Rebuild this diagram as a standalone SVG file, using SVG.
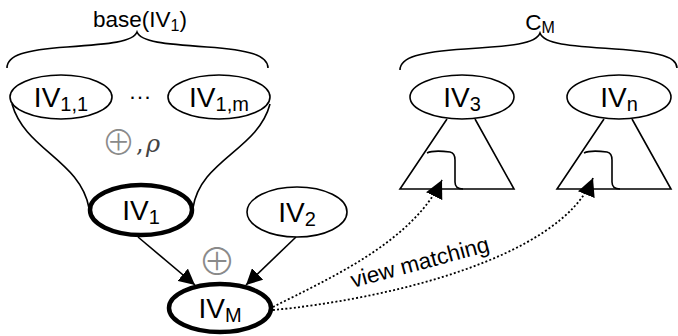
<svg xmlns="http://www.w3.org/2000/svg" width="678" height="336" viewBox="0 0 678 336">
<defs>
<style>
.n{fill:#fff;stroke:#000;stroke-width:1.6}
.b{fill:#fff;stroke:#000;stroke-width:4.5}
.l{fill:none;stroke:#000;stroke-width:1.6}
.d{fill:none;stroke:#000;stroke-width:1.8;stroke-dasharray:2,2.2}
.t{font-family:"Liberation Sans",Arial,sans-serif;font-size:28px;fill:#000}
.s{font-size:20px}
.g{font-family:"Liberation Sans",Arial,sans-serif;font-size:22.5px;fill:#000}
.o{font-family:"Noto Sans CJK JP","DejaVu Sans",sans-serif;font-weight:300;fill:#8a8a8a}
</style>
<marker id="ah" viewBox="0 0 10 10" refX="10" refY="5" markerWidth="16" markerHeight="16" markerUnits="userSpaceOnUse" orient="auto"><path d="M0,0 L10,5 L0,10 Z" fill="#000"/></marker>
<marker id="ah2" viewBox="0 0 10 10" refX="10" refY="5" markerWidth="18" markerHeight="18" markerUnits="userSpaceOnUse" orient="auto"><path d="M0,0 L10,5 L0,10 Z" fill="#000"/></marker>
</defs>
<rect width="678" height="336" fill="#fff"/>
<g id="braces">
<path class="l" d="M7,68 C7,55 25,50 67,47 C110,44 133,42 137,32 C141,42 164,44 207,47 C249,50 268,55 268,68"/>
<path class="l" d="M400,70 C400,57 420,52 465,49 C512,46 536,44 540,33 C544,44 568,46 615,49 C660,52 677,57 677,68"/>
<text class="g" x="140" y="27" text-anchor="middle">base(IV<tspan font-size="16" dy="4">1</tspan><tspan dy="-4">)</tspan></text>
<text class="g" x="540" y="30" font-size="23" text-anchor="middle">C<tspan font-size="16" dy="3">M</tspan></text>
</g>
<g id="funnel">
<path class="l" d="M12,104 C25,150 80,160 89,208"/>
<path class="l" d="M270,104 C258,150 200,160 193,208"/>
<text class="o" font-size="34"><tspan x="118.5" y="155" text-anchor="middle">⊕</tspan><tspan x="136" y="152" font-family="'DejaVu Serif',serif" font-weight="400" fill="#444" font-size="24">,</tspan><tspan x="146" y="152" font-family="'DejaVu Serif',serif" font-weight="400" font-style="italic" fill="#444" font-size="24">ρ</tspan></text>
</g>
<g id="connectors">
<line class="l" x1="138" y1="237" x2="195" y2="285" marker-end="url(#ah)"/>
<line class="l" x1="296" y1="237" x2="246" y2="285" marker-end="url(#ah)"/>
<path class="d" d="M273,307 C330,278 412,242 442,180" marker-end="url(#ah2)"/>
<path class="d" d="M273,310 C380,300 560,260 593,178" marker-end="url(#ah2)"/>
<text class="g" font-size="24" transform="translate(353,288) rotate(-15)">view matching</text>
<text class="o" x="217" y="274.5" font-size="38" text-anchor="middle" fill="#a0a0a0">⊕</text>
</g>
<g id="iv11"><ellipse class="n" cx="61" cy="97" rx="51" ry="22"/><text class="t" x="61" y="107" text-anchor="middle">IV<tspan class="s" dy="4">1,1</tspan></text></g>
<g id="dots"><text class="g" x="140" y="104" font-size="24" text-anchor="middle">···</text></g>
<g id="iv1m"><ellipse class="n" cx="219" cy="97" rx="51" ry="22"/><text class="t" x="219" y="107" text-anchor="middle">IV<tspan class="s" dy="4">1,m</tspan></text></g>
<g id="iv1"><ellipse class="b" cx="141" cy="210" rx="51" ry="25"/><text class="t" x="141" y="220" text-anchor="middle">IV<tspan class="s" dy="4">1</tspan></text></g>
<g id="iv2"><ellipse class="n" cx="297" cy="212" rx="50" ry="25"/><text class="t" x="297" y="222" text-anchor="middle">IV<tspan class="s" dy="4">2</tspan></text></g>
<g id="ivm"><ellipse class="b" cx="220" cy="308" rx="51" ry="24"/><text class="t" x="220" y="318" text-anchor="middle">IV<tspan class="s" dy="4">M</tspan></text></g>
<g id="tree3">
<path class="l" d="M447,119 L400,189 L514,189 L475,119"/>
<path class="l" d="M427,153 C433,150 442,151 450,152 Q455,153 455,160 L455,182 Q455,189 463,189"/>
</g>
<g id="iv3"><ellipse class="n" cx="462" cy="97" rx="52" ry="22"/><text class="t" x="462" y="107" text-anchor="middle">IV<tspan class="s" dy="4">3</tspan></text></g>
<g id="treen">
<path class="l" d="M604,119 L557,189 L671,189 L632,119"/>
<path class="l" d="M584,153 C590,150 599,151 607,152 Q612,153 612,160 L612,182 Q612,189 620,189"/>
</g>
<g id="ivn"><ellipse class="n" cx="619" cy="97" rx="52" ry="22"/><text class="t" x="619" y="107" text-anchor="middle">IV<tspan class="s" dy="4">n</tspan></text></g>
</svg>
